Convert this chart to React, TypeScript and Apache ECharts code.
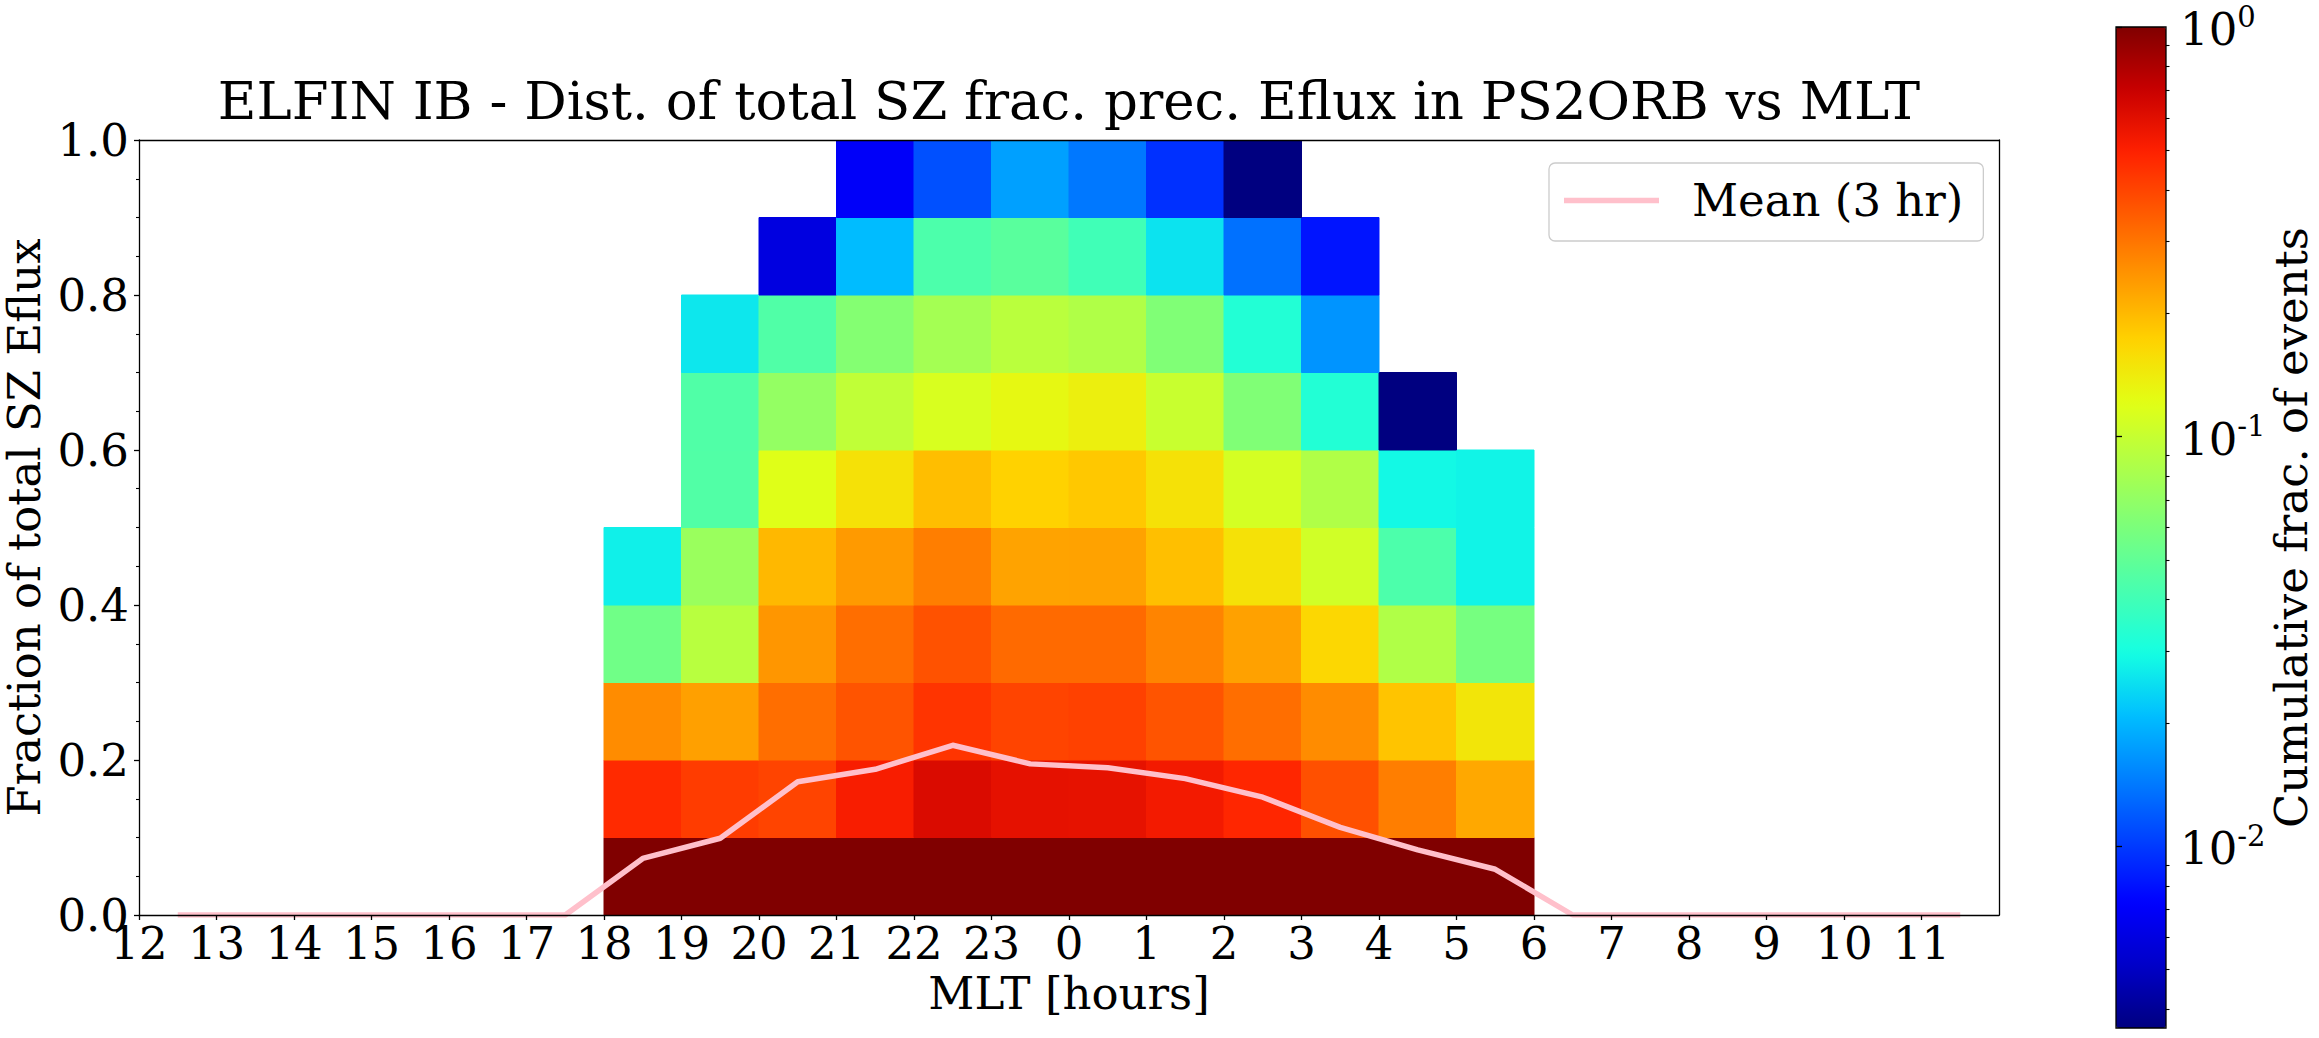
import React, { useEffect, useRef } from "react";
import * as echarts from "echarts";

// ---------------- data ----------------
const TITLE = "ELFIN IB - Dist. of total SZ frac. prec. Eflux in PS2ORB vs MLT";
const X_NAME = "MLT [hours]";
const Y_NAME = "Fraction of total SZ Eflux";
const CBAR_NAME = "Cumulative frac. of events";
const LEGEND_NAME = "Mean (3 hr)";

// MLT start hour of each histogram column
const COLUMN_HOURS = [18, 19, 20, 21, 22, 23, 0, 1, 2, 3, 4, 5];
// lower edge of each fraction bin
const ROW_BOTTOMS = [0.0, 0.1, 0.2, 0.3, 0.4, 0.5, 0.6, 0.7, 0.8, 0.9];
const BIN_WIDTH_X = 1;
const BIN_WIDTH_Y = 0.1;

// cumulative fraction of events per cell, one array per fraction bin (bottom to top)
const CUM_FRAC_ROWS: (number | null)[][] = [
  [1, 1, 1, 1, 1, 1, 1, 1, 1, 1, 1, 1],
  [0.469, 0.422, 0.402, 0.516, 0.627, 0.585, 0.58, 0.535, 0.481, 0.373, 0.284, 0.221],
  [0.262, 0.232, 0.313, 0.365, 0.443, 0.402, 0.41, 0.365, 0.313, 0.262, 0.187, 0.148],
  [0.0555, 0.091, 0.246, 0.313, 0.369, 0.321, 0.321, 0.274, 0.231, 0.166, 0.086, 0.058],
  [0.0273, 0.0738, 0.201, 0.241, 0.284, 0.228, 0.229, 0.193, 0.153, 0.107, 0.0433, 0.028],
  [null, 0.045, 0.119, 0.153, 0.194, 0.172, 0.183, 0.153, 0.11, 0.086, 0.0288, 0.028],
  [null, 0.0446, 0.071, 0.0957, 0.113, 0.128, 0.137, 0.101, 0.062, 0.0325, 0.0036, null],
  [null, 0.026, 0.0446, 0.0637, 0.079, 0.092, 0.086, 0.0619, 0.0325, 0.0164, null, null],
  [null, null, 0.00597, 0.0205, 0.0433, 0.0476, 0.04, 0.0255, 0.0135, 0.0081, null, null],
  [null, null, null, 0.007, 0.0113, 0.0176, 0.0141, 0.00946, 0.0036, null, null, null],
];

// mean line (3 hr), at bin centres
const MEAN_HOURS = [
  12.5, 13.5, 14.5, 15.5, 16.5, 17.5, 18.5, 19.5, 20.5, 21.5, 22.5, 23.5,
  0.5, 1.5, 2.5, 3.5, 4.5, 5.5, 6.5, 7.5, 8.5, 9.5, 10.5, 11.5,
];
const MEAN_VALUES = [
  0, 0, 0, 0, 0, 0, 0.073, 0.099, 0.172, 0.188, 0.219, 0.195,
  0.19, 0.176, 0.152, 0.113, 0.084, 0.059, 0, 0, 0, 0, 0, 0,
];

const X_TICK_HOURS = [12, 13, 14, 15, 16, 17, 18, 19, 20, 21, 22, 23, 0, 1, 2, 3, 4, 5, 6, 7, 8, 9, 10, 11];

// colour bar (log scale)
const CBAR_MIN = 0.0036;
const CBAR_MAX = 1;
const CBAR_MAJOR = [0.01, 0.1, 1];
const CBAR_MINOR = [
  0.004, 0.005, 0.006, 0.007, 0.008, 0.009,
  0.02, 0.03, 0.04, 0.05, 0.06, 0.07, 0.08, 0.09,
  0.2, 0.3, 0.4, 0.5, 0.6, 0.7, 0.8, 0.9,
];

// matplotlib "jet" colour stops
const JET = [
  "#000080", "#0000c8", "#0000ff", "#0040ff", "#0080ff", "#00bfff", "#15ffe2", "#48ffaf",
  "#7bff7b", "#afff48", "#e2ff15", "#ffd200", "#ff9700", "#ff5c00", "#ff2100", "#c80000", "#800000",
];

const FONT = "DejaVu Serif";
const LINE_COLOR = "#ffc0cb";

const toAxisHour = (h: number) => (h < 12 ? h + 24 : h);

export default function App() {
  const ref = useRef<HTMLDivElement>(null);

  useEffect(() => {
    document.body.style.margin = "0";
    document.body.style.overflow = "hidden";
    if (!ref.current) return;
    const chart = echarts.init(ref.current, null, { renderer: "svg" });

    const LOG_MIN = Math.log10(CBAR_MIN);
    const LOG_MAX = Math.log10(CBAR_MAX);

    const cells: number[][] = [];
    CUM_FRAC_ROWS.forEach((row, ri) => {
      row.forEach((v, ci) => {
        if (v == null) return;
        cells.push([toAxisHour(COLUMN_HOURS[ci]), ROW_BOTTOMS[ri], Math.log10(v)]);
      });
    });

    const meanData = MEAN_HOURS.map((h, i) => [toAxisHour(h), MEAN_VALUES[i]]);
    const xTicks = X_TICK_HOURS.map(toAxisHour);

    const black = "#000";
    const spine = { show: true, onZero: false, lineStyle: { color: black, width: 1.3 } };
    const tickStyle = { color: black, width: 1.3 };

    const option: any = {
      animation: false,
      textStyle: { fontFamily: FONT, color: black },
      title: {
        text: TITLE,
        left: 1069,
        top: 74,
        textAlign: "center",
        padding: 0,
        textStyle: { fontFamily: FONT, fontSize: 53, fontWeight: "normal", color: black },
      },
      legend: {
        show: true,
        left: 1549,
        top: 163,
        orient: "horizontal",
        selectedMode: false,
        data: [{ name: LEGEND_NAME, icon: "rect" }],
        itemWidth: 95,
        itemHeight: 5.5,
        itemStyle: { borderWidth: 0 },
        padding: [15, 20, 18, 15],
        backgroundColor: "rgba(255,255,255,0.8)",
        borderColor: "#cccccc",
        borderWidth: 1.3,
        borderRadius: 6,
        textStyle: { fontFamily: FONT, fontSize: 45, color: black, padding: [0, 0, 0, 28] },
      },
      grid: [
        { left: 139, top: 140, width: 1860, height: 775, containLabel: false, outerBoundsMode: "none" },
        {
          left: 2116, top: 27, width: 50, height: 1001, containLabel: false, outerBoundsMode: "none",
          show: true, borderColor: black, borderWidth: 1.3, backgroundColor: "transparent", z: 10,
        },
      ],
      xAxis: [
        {
          gridIndex: 0, type: "value", position: "bottom", min: 12, max: 36, interval: 1, z: 10,
          axisLine: spine,
          axisTick: { show: true, length: 5, customValues: xTicks, lineStyle: tickStyle },
          axisLabel: {
            customValues: xTicks, formatter: (v: number) => String(v % 24),
            fontFamily: FONT, fontSize: 45, color: black, margin: 6,
          },
          splitLine: { show: false },
          name: X_NAME, nameLocation: "middle", nameGap: 55,
          nameTextStyle: { fontFamily: FONT, fontSize: 45, color: black },
        },
        {
          gridIndex: 0, type: "value", position: "top", min: 12, max: 36, z: 10,
          axisLine: spine, axisTick: { show: false }, axisLabel: { show: false }, splitLine: { show: false },
        },
        { gridIndex: 1, type: "value", min: 0, max: 1, show: false },
      ],
      yAxis: [
        {
          gridIndex: 0, type: "value", position: "left", min: 0, max: 1, interval: 0.2, z: 10,
          axisLine: spine,
          axisTick: { show: true, length: 5, lineStyle: tickStyle },
          minorTick: { show: true, splitNumber: 4, length: 3, lineStyle: { color: black, width: 1.1 } },
          axisLabel: {
            formatter: (v: number) => v.toFixed(1),
            fontFamily: FONT, fontSize: 45, color: black, margin: 10,
          },
          splitLine: { show: false }, minorSplitLine: { show: false },
          name: Y_NAME, nameLocation: "middle", nameRotate: 90, nameGap: 85,
          nameTextStyle: { fontFamily: FONT, fontSize: 45, color: black, lineHeight: 45 },
        },
        {
          gridIndex: 0, type: "value", position: "right", min: 0, max: 1, z: 10,
          axisLine: spine, axisTick: { show: false }, axisLabel: { show: false }, splitLine: { show: false },
        },
        {
          gridIndex: 1, type: "value", position: "right", min: LOG_MIN, max: LOG_MAX, z: 11,
          axisLine: { show: false },
          axisTick: { show: true, length: 6, customValues: CBAR_MAJOR.map(Math.log10), lineStyle: tickStyle },
          axisLabel: {
            customValues: CBAR_MAJOR.map(Math.log10),
            formatter: (v: number) => `{b|10}{s|${Math.round(v)}}`,
            margin: 14,
            rich: {
              b: { fontFamily: FONT, fontSize: 45, lineHeight: 50, color: black, verticalAlign: "bottom" },
              s: { fontFamily: FONT, fontSize: 29, lineHeight: 38, color: black, verticalAlign: "top" },
            },
          },
          splitLine: { show: false },
          name: CBAR_NAME, nameLocation: "middle", nameRotate: 90, nameGap: 96,
          nameTextStyle: { fontFamily: FONT, fontSize: 45, color: black },
        },
        {
          gridIndex: 1, type: "value", position: "right", min: LOG_MIN, max: LOG_MAX, z: 11,
          axisLine: { show: false },
          axisTick: { show: true, length: 3.5, customValues: CBAR_MINOR.map(Math.log10), lineStyle: { color: black, width: 1.1 } },
          axisLabel: { show: false },
          splitLine: { show: false },
        },
      ],
      visualMap: {
        type: "continuous",
        seriesIndex: 0,
        dimension: 2,
        min: LOG_MIN,
        max: LOG_MAX,
        orient: "vertical",
        left: 2116,
        top: 27,
        itemWidth: 50,
        itemHeight: 1001,
        padding: 0,
        calculable: false,
        hoverLink: false,
        inRange: { color: JET },
        z: 4,
      },
      series: [
        {
          type: "custom",
          xAxisIndex: 0,
          yAxisIndex: 0,
          dimensions: ["hour", "frac", "logCum"],
          encode: { x: 0, y: 1 },
          data: cells,
          clip: true,
          silent: true,
          z: 2,
          renderItem: (params: any, api: any) => {
            const x0 = api.value(0);
            const y0 = api.value(1);
            const p1 = api.coord([x0, y0 + BIN_WIDTH_Y]);
            const p2 = api.coord([x0 + BIN_WIDTH_X, y0]);
            const color = api.visual("color");
            return {
              type: "rect",
              shape: { x: p1[0], y: p1[1], width: p2[0] - p1[0], height: p2[1] - p1[1] },
              style: { fill: color, stroke: color, lineWidth: 1 },
            };
          },
        },
        {
          type: "line",
          name: LEGEND_NAME,
          xAxisIndex: 0,
          yAxisIndex: 0,
          data: meanData,
          symbol: "none",
          showSymbol: false,
          lineStyle: { color: LINE_COLOR, width: 5.5, join: "round" },
          itemStyle: { color: LINE_COLOR },
          z: 5,
          silent: true,
        },
      ],
    };

    chart.setOption(option);
    return () => chart.dispose();
  }, []);

  return <div ref={ref} style={{ width: 2319, height: 1038 }} />;
}
